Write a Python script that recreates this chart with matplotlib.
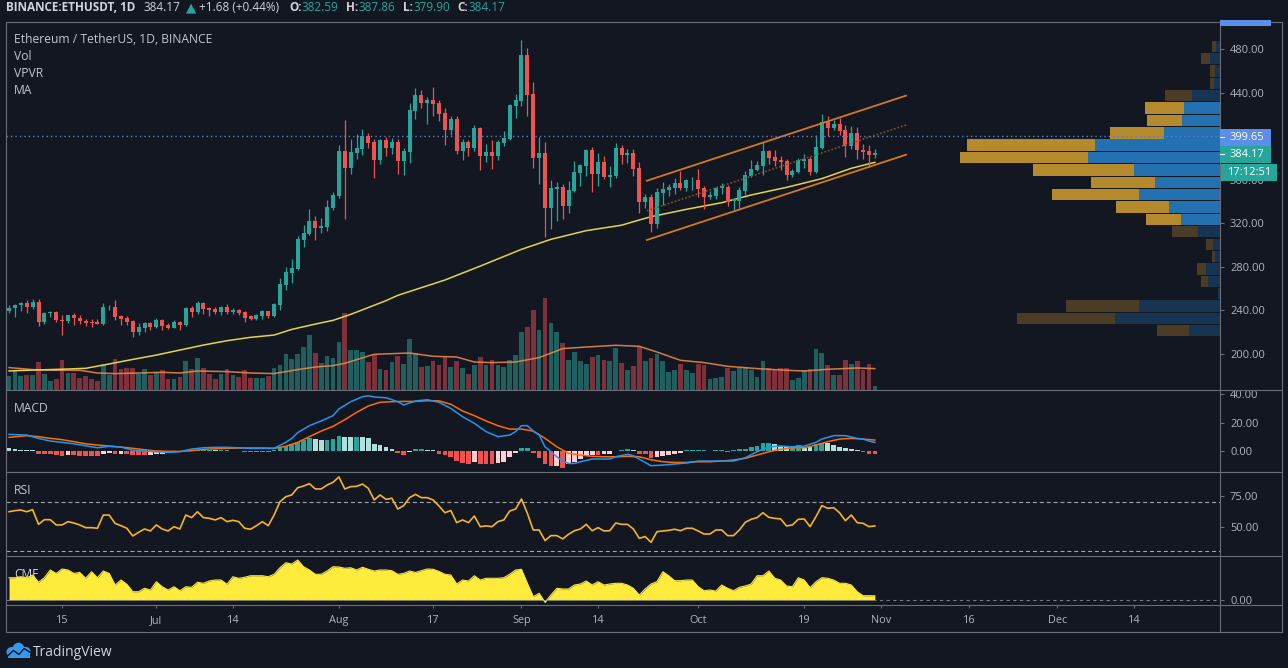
import numpy as np
import pandas as pd
import matplotlib
matplotlib.use("Agg")
import matplotlib.pyplot as plt
import matplotlib.dates as mdates
from matplotlib.patches import Rectangle, Circle
from matplotlib.lines import Line2D
from matplotlib.transforms import Affine2D
from matplotlib.ticker import FormatStrFormatter

plt.rcParams['font.family'] = ['Open Sans', 'DejaVu Sans']

# ---------------- data ----------------
dates = pd.date_range("2020-06-06", periods=148, freq="D")

opens = [239.4,242.1,244.6,246.5,243.1,247.7,229.0,236.9,238.2,231.1,
230.2,235.1,232.6,229.9,229.4,229.1,227.4,242.5,242.8,234.8,
233.0,229.9,219.8,223.5,228.0,224.4,230.8,226.5,223.5,229.0,
226.2,241.8,237.9,246.4,241.8,240.9,238.2,242.8,238.5,240.0,
238.2,234.2,231.7,234.5,239.1,234.5,244.6,263.0,274.0,277.7,
304.4,309.9,321.8,315.7,316.3,333.8,344.8,386.2,370.6,384.4,
388.0,400.0,394.5,378.0,396.3,389.0,394.5,377.0,385.3,423.0,
437.7,430.3,433.1,430.3,421.1,405.5,415.6,386.2,394.5,389.0,
407.4,381.6,385.3,381.6,393.6,397.2,427.6,432.2,474.5,438.6,
379.8,384.4,333.8,351.3,353.1,335.6,349.4,366.0,372.4,387.1,
365.1,376.1,362.3,363.2,389.0,382.5,384.4,370.6,339.3,343.9,
319.1,347.6,350.3,352.2,356.8,352.2,359.2,359.5,352.2,343.9,
344.8,352.2,353.1,340.2,340.2,349.4,363.2,368.7,372.4,386.2,
380.7,377.9,377.0,364.1,366.9,377.0,378.9,366.9,389.0,412.9,
407.4,411.0,405.5,390.8,402.8,387.1,386.2,382.59]

highs = [244.6,245.5,247.7,249.2,250.1,250.1,238.2,239.0,239.1,235.7,
235.7,237.2,235.7,232.0,231.4,231.4,246.7,244.6,249.2,235.4,
234.5,230.8,227.7,229.3,229.3,232.6,232.0,227.7,230.8,229.9,
242.5,243.7,248.3,247.4,242.4,242.8,243.7,245.5,241.8,240.9,
239.1,235.4,236.3,240.0,239.5,246.4,269.4,279.2,286.9,308.0,
318.2,332.9,326.4,324.6,341.2,348.5,391.7,414.7,397.2,401.8,
406.4,402.8,397.2,397.2,399.1,398.2,397.2,389.0,430.3,444.1,
442.3,435.9,445.1,433.1,425.7,418.4,418.4,397.2,396.3,410.1,
408.3,392.7,396.3,396.3,404.6,429.4,438.6,488.3,480.9,449.7,
399.1,394.5,359.5,357.7,355.9,358.6,377.0,374.3,388.0,389.9,
384.4,381.6,372.4,393.6,391.7,388.0,388.0,376.1,346.7,346.7,
352.2,357.7,355.9,361.4,367.8,360.5,362.0,369.7,354.0,349.4,
353.5,356.8,355.0,343.0,353.1,367.8,378.0,377.0,394.5,387.1,
387.1,381.6,378.9,369.7,379.8,383.4,380.7,400.9,420.2,418.4,
414.7,416.5,410.1,409.2,408.3,392.7,391.7,387.86]

lows = [236.9,233.9,239.4,237.5,241.2,225.6,227.1,233.9,229.0,217.0,
228.4,226.2,227.1,225.3,224.4,226.8,226.5,240.0,230.5,226.5,
226.2,215.2,217.0,219.8,221.6,223.5,221.6,222.5,223.5,221.6,
225.6,233.9,236.6,236.6,234.8,236.3,235.7,236.6,236.6,235.7,
229.0,231.1,230.8,232.0,233.0,234.0,240.0,258.4,264.8,276.8,
297.9,309.0,304.4,310.8,312.6,332.0,342.7,323.7,365.1,378.9,
382.5,389.0,361.4,374.3,381.6,383.4,365.1,364.2,375.2,415.6,
425.7,411.0,418.4,413.8,391.7,400.9,383.4,378.0,381.6,386.2,
368.7,376.1,369.7,378.0,390.8,396.3,416.6,427.6,418.4,370.6,
355.9,307.1,314.5,321.8,323.7,329.2,348.5,354.0,363.2,348.5,
354.0,360.5,353.1,361.4,374.3,375.2,363.5,329.5,333.8,311.7,
315.4,336.5,344.8,346.7,350.3,349.4,350.3,343.9,332.9,342.1,
342.1,346.7,335.6,332.0,333.8,345.8,362.3,367.8,364.1,374.3,
372.4,368.7,359.5,362.3,366.0,370.6,364.1,366.0,388.0,400.0,
405.5,400.9,380.7,388.0,378.9,378.9,371.5,379.90]

closes = [242.1,244.6,246.5,243.1,247.7,229.0,236.9,238.2,231.1,230.2,
235.1,232.6,229.9,228.0,228.4,227.4,242.8,243.1,233.9,232.0,
229.0,219.8,224.4,227.7,224.4,230.8,225.6,223.5,229.0,226.5,
241.8,238.2,246.4,240.9,240.3,238.2,242.8,238.2,240.0,236.9,
232.6,231.7,235.4,239.1,234.5,245.5,263.9,274.9,278.6,305.3,
310.8,321.8,315.4,317.2,334.7,345.7,386.2,370.6,385.3,389.0,
400.0,393.6,378.0,396.3,389.0,394.5,377.0,386.2,423.9,437.7,
430.3,433.1,429.4,420.2,405.5,415.6,386.2,394.5,389.0,407.4,
381.6,385.3,381.6,394.5,398.2,428.5,433.1,474.5,437.7,379.8,
384.4,333.8,352.2,353.1,335.6,350.3,366.9,373.3,387.1,365.1,
376.1,362.3,364.2,389.0,382.5,384.4,369.7,339.3,343.9,319.1,
348.5,351.3,353.1,356.8,352.2,359.5,359.8,351.3,343.9,345.7,
352.2,354.0,339.3,342.1,350.3,364.1,369.7,373.3,386.2,379.8,
377.0,376.1,364.1,367.8,377.9,378.9,366.9,389.9,412.9,407.4,
411.0,404.6,390.8,402.8,387.1,385.3,382.49,384.17]

volumes = [14,20,14,15,15,28,16,9,11,30,
17,17,12,14,11,9,26,15,31,21,
22,22,16,21,15,18,20,11,11,13,
29,21,32,22,16,11,16,21,15,13,
20,12,12,12,14,22,25,36,31,36,
43,55,37,27,34,32,48,77,40,40,
38,28,35,21,20,28,34,26,51,37,
23,24,29,25,33,23,29,22,16,25,
33,25,30,25,23,30,35,58,63,80,
60,92,67,58,47,30,38,29,26,33,
35,30,29,42,27,20,24,43,29,32,
36,29,18,20,26,20,17,26,25,11,
12,13,22,19,22,23,20,13,29,22,
20,22,22,10,12,20,21,41,37,25,
15,15,30,26,29,20,26,4]

vol_ma_idx = [0,4,8,12,15,18,22,26,29,32,37,41,45,49,52,55,57,62,68,72,
              76,79,82,86,90,94,98,103,107,110,114,118,122,127,132,135,139,144,147]
vol_ma_val = [22.7,20.7,20.0,20.0,17.3,16.7,17.3,18.0,17.3,19.3,18.7,17.3,16.7,20.7,23.3,24.7,27.0,36.0,37.3,34.0,
              33.3,28.3,27.7,28.3,32.7,41.7,43.3,45.0,44.0,38.3,30.0,27.7,24.0,21.7,20.0,19.3,21.0,22.3,21.7]

ma_idx = [0,4,8,13,16,21,25,29,33,37,41,45,48,52,55,58,64,66,74,80,87,92,98,104,107,109,115,121,126,132,138,143,147]
ma_val = [184.0,184.8,185.4,186.4,189.4,194.6,198.6,203.2,207.8,211.8,214.9,217.0,222.2,227.1,230.5,236.0,248.6,253.5,
          267.6,280.4,295.8,305.0,313.0,318.0,322.8,325.8,332.6,338.7,345.8,352.8,360.8,370.3,375.8]

macd_idx = [0,3,5,7,9,11,13,15,17,19, 21,23,25,27,29,31,33,35,37,39,
            41,43,45,47,48,49,51,53,55,56, 58,60,61,62,64,66,67,69,71,73,
            75,77,79,81,83,85,86,87,88,89, 90,91,93,94,95,96,97,99,101,102,
            103,105,106,107,108,109,111,113,115,117, 119,121,123,125,127,129,131,133,135,137,
            138,140,142,144,145,146,147]
macd_val = [11.7,11.2,8.9,7.0,6.1,5.1,3.7,2.3,3.3,2.8, 0.5,0.0,-0.5,-0.9,-0.5,1.4,2.3,2.6,2.6,2.3,
            1.9,1.9,1.9,6.1,8.9,12.9,17.8,21.1,24.8,29.5, 34.6,38.1,38.8,37.9,37.4,34.6,32.3,35.1,36.0,34.2,
            29.9,24.1,19.4,13.6,10.1,11.2,13.6,17.8,17.8,14.0, 11.2,3.0,-4.0,-7.0,-8.7,-8.7,-7.5,-5.6,-5.6,-5.6,
            -4.0,-2.3,-3.3,-5.6,-8.0,-10.3,-9.8,-9.1,-8.4,-7.0, -7.0,-7.0,-7.0,-4.7,-0.5,3.0,3.5,3.0,3.5,6.1,
            8.4,10.8,10.8,8.9,8.4,7.0,6.1]

signal_idx = [0,3,5,7,9,11,13,15,17,19, 21,23,25,27,29,31,33,35,37,39,
              41,43,45,47,49,51,53,55,57,59, 61,63,65,67,69,71,73,75,77,79,
              81,83,85,87,89,91,93,95,97,99, 101,103,105,107,109,111,113,115,117,119,
              121,123,125,127,129,131,133,135,137,139, 141,143,145,147]
signal_val = [9.6,10.8,10.1,8.9,8.0,6.6,5.1,4.2,3.5,2.8, 1.9,0.9,0.0,-0.2,-0.2,0.2,1.2,1.6,1.9,2.1,
              2.1,2.1,1.9,3.3,6.1,10.1,14.0,17.3,22.0,27.1, 31.6,34.2,34.6,34.8,34.8,35.3,35.2,32.8,28.1,24.8,
              21.1,17.8,15.4,15.4,14.0,8.9,3.0,-1.6,-2.8,-3.7, -4.0,-4.0,-3.7,-4.0,-6.1,-7.5,-8.0,-8.0,-7.5,-7.5,
              -7.0,-6.3,-5.1,-2.8,-0.5,1.2,2.3,2.3,4.2,6.6, 8.4,8.9,8.4,7.7]

macd_hist = [1.9,1.2,0.9,0.7,0.5,-1.9,-2.1,-2.1,-2.6,-3.3,
-2.8,-3.0,-3.3,-3.3,-3.3,-3.3,-1.9,-1.4,-2.1,-1.9,
-2.3,-2.8,-2.8,-2.8,-2.6,-2.3,-1.9,-1.6,-0.9,-0.5,
0.5,0.5,0.7,0.7,0.7,0.5,0.5,0.5,0.2,0.0,
-0.5,-0.9,-0.9,-0.9,-0.9,0.5,1.9,3.3,5.1,6.5,
8.0,8.9,8.4,7.7,8.0,8.4,10.5,10.1,9.8,9.8,
9.6,8.9,4.9,4.2,3.0,1.4,-1.2,-2.6,-0.5,1.4,
1.4,0.9,0.5,-1.9,-2.5,-4.0,-7.0,-8.7,-9.1,-7.5,
-9.1,-9.1,-9.1,-8.7,-7.5,-4.0,-1.6,1.9,1.9,-1.6,
-4.7,-9.1,-10.5,-10.3,-11.7,-9.1,-7.5,-5.6,-3.3,-2.8,
-2.8,-2.3,-1.9,0.3,0.7,1.4,0.5,-2.3,-2.3,-5.1,
-4.0,-3.5,-2.8,-1.9,-1.2,0.5,0.5,0.5,0.5,0.1,
0.5,0.5,-0.5,0.5,1.2,1.2,2.8,3.5,5.4,5.4,
4.7,3.5,3.0,3.0,4.2,3.0,2.6,4.7,5.8,5.4,
4.2,3.0,1.9,1.2,0.5,-0.5,-1.9,-1.9]

rsi = [62.3,63.2,63.7,62.3,64.0,52.0,55.8,55.8,51.5,51.5,
54.2,53.1,51.5,49.3,49.3,48.8,59.6,59.6,52.8,50.9,
48.8,42.5,45.5,48.2,46.6,51.5,48.2,46.6,50.1,48.2,
59.6,57.5,62.3,57.5,56.9,55.6,57.5,54.2,55.3,54.2,
48.8,48.0,50.9,54.2,50.9,59.6,70.5,74.6,76.0,81.9,
83.3,85.2,80.9,80.9,84.1,86.3,90.7,80.9,82.8,83.0,
84.9,81.4,71.9,76.0,72.4,73.3,64.5,67.3,73.8,76.5,
73.8,73.8,71.9,67.0,61.5,63.3,53.4,55.6,53.4,58.8,
50.1,50.7,50.1,54.2,55.6,62.9,64.5,72.7,61.0,47.4,
47.4,38.7,42.8,42.8,40.1,43.9,46.8,48.2,52.0,46.8,
49.3,46.6,46.8,53.1,52.0,52.0,48.2,40.6,42.0,37.3,
46.0,46.6,47.1,48.0,46.8,48.8,48.8,46.6,44.1,44.1,
47.4,47.4,42.8,42.8,47.4,53.7,56.1,57.5,61.5,57.7,
56.9,56.4,50.7,51.5,56.1,56.4,50.1,58.3,67.3,65.1,
65.6,61.5,55.0,59.6,53.4,52.8,50.1,50.7]

cmf = [0.156,0.156,0.163,0.156,0.175,0.124,0.156,0.210,0.186,0.217,
0.210,0.186,0.193,0.152,0.198,0.156,0.203,0.186,0.105,0.140,
0.110,0.058,0.058,0.082,0.070,0.128,0.093,0.070,0.093,0.065,
0.093,0.089,0.124,0.117,0.133,0.140,0.140,0.110,0.163,0.152,
0.159,0.170,0.170,0.170,0.163,0.180,0.226,0.261,0.252,0.280,
0.233,0.210,0.180,0.180,0.203,0.233,0.231,0.222,0.226,0.210,
0.229,0.215,0.203,0.210,0.210,0.205,0.180,0.186,0.203,0.193,
0.205,0.217,0.215,0.200,0.180,0.175,0.112,0.140,0.133,0.170,
0.140,0.152,0.152,0.152,0.156,0.180,0.210,0.215,0.117,0.023,
0.047,-0.016,0.035,0.082,0.077,0.077,0.105,0.112,0.133,0.105,
0.128,0.105,0.112,0.117,0.117,0.105,0.082,0.035,0.077,0.112,
0.128,0.198,0.170,0.135,0.135,0.140,0.140,0.093,0.065,0.070,
0.063,0.105,0.082,0.065,0.089,0.098,0.112,0.170,0.170,0.203,
0.152,0.140,0.098,0.093,0.156,0.140,0.086,0.128,0.156,0.152,
0.140,0.117,0.117,0.105,0.058,0.030,0.030,0.030]

# Volume profile (visible range), rows bottom -> top
vp_price = [220.9,232.3,243.7,255.0,266.4,277.8,289.2,300.5,311.9,323.3,334.7,346.1,
            357.4,368.8,380.2,391.6,402.9,414.3,425.7,437.1,448.5,459.8,471.2,482.6]
vp_up = [31,105,81,2,12,14,5,7,22,39,51,81,65,86,132,125,56,38,36,28,6,5,10,4]
vp_down = [32,98,73,0,7,9,3,7,26,35,53,87,64,101,128,128,54,35,39,27,4,5,9,4]
vp_value_area = [0,0,0,0,0,0,0,0,0,1,1,1,1,1,1,1,1,1,1,0,0,0,0,0]

# Trend channel drawing
chan_dates = ["2020-09-22 07:00", "2020-11-05 07:00"]
chan_upper = [358.9, 437.1]
chan_mid = [331.3, 410.1]
chan_lower = [304.4, 382.8]

hline_price = 399.65
last_price = 384.17
price_ticks = [200, 240, 280, 320, 360, 440, 480]

tick_dates = ['2020-06-15','2020-07-01','2020-07-14','2020-08-01','2020-08-17','2020-09-01',
              '2020-09-14','2020-10-01','2020-10-19','2020-11-01','2020-11-16','2020-12-01','2020-12-14']
tick_labels = ['15','Jul','14','Aug','17','Sep','14','Oct','19','Nov','16','Dec','14']

# ---------------- style ----------------
W, H = 1288, 668
BG = "#131722"
UP, DN = "#26a69a", "#ef5350"
VUP, VDN = "#1f605e", "#7e313a"
TXT = "#b2b5be"
TXT2 = "#d1d4dc"
FRAME = "#6b6e78"
AXFS = 8.0

fig = plt.figure(figsize=(W / 100, H / 100), dpi=100)
fig.patch.set_facecolor(BG)
T = Affine2D().scale(1, -1).translate(0, H).scale(1.0 / W, 1.0 / H) + fig.transFigure

L, R = 5.7, 1220.3
def rect(top, bot):
    return [L / W, 1 - bot / H, (R - L) / W, (bot - top) / H]

ax_vol = fig.add_axes(rect(21.7, 390.3), zorder=0)
ax = fig.add_axes(rect(21.7, 390.3), sharex=ax_vol, zorder=1)
ax_vp = fig.add_axes(rect(21.7, 390.3), sharey=ax, zorder=2)
ax_macd = fig.add_axes(rect(390.3, 472.3), sharex=ax_vol)
ax_rsi = fig.add_axes(rect(472.3, 556.3), sharex=ax_vol)
ax_cmf = fig.add_axes(rect(556.3, 605.3), sharex=ax_vol)

for a in (ax_vol, ax, ax_vp, ax_macd, ax_rsi, ax_cmf):
    for s in a.spines.values():
        s.set_visible(False)
ax_vol.set_facecolor(BG)
ax.set_facecolor('none')
ax_vp.set_facecolor('none')
for a in (ax_macd, ax_rsi, ax_cmf):
    a.set_facecolor(BG)

x = mdates.date2num(dates)
x0 = x[0]
ax_vol.set_xlim(x0 - 0.57, x0 + 205.65)

o = np.array(opens); hi = np.array(highs); lo = np.array(lows); c = np.array(closes)
up = c >= o
col = np.where(up, UP, DN)

# volume
vcol = np.where(up, VUP, VDN)
ax_vol.bar(x, volumes, width=0.8, color=vcol, linewidth=0)
ax_vol.plot(x[vol_ma_idx], vol_ma_val, color="#e8884a", lw=1.1, alpha=0.9)
ax_vol.set_ylim(0, 368.6)
ax_vol.tick_params(bottom=False, labelbottom=False, left=False, labelleft=False)

# price
ax.plot(x[ma_idx], ma_val, color="#e6d447", lw=1.1, zorder=2.5)
ax.vlines(x, lo, hi, colors=col, lw=0.9, zorder=3)
ax.bar(x, np.maximum(np.abs(c - o), 0.6), bottom=np.minimum(o, c), width=0.68,
       color=col, linewidth=0, zorder=4)
cx = mdates.date2num(pd.to_datetime(chan_dates))
ax.plot(cx, chan_upper, color="#d27a20", lw=1.3, zorder=5)
ax.plot(cx, chan_lower, color="#d27a20", lw=1.3, zorder=5)
ax.plot(cx, chan_mid, color="#7d5627", lw=1.2, ls=(0, (1, 1.2)), zorder=5)
ax.set_ylim(166.2, 505.1)
ax.yaxis.tick_right()
ax.set_yticks(price_ticks)
ax.yaxis.set_major_formatter(FormatStrFormatter('%.2f'))
ax.tick_params(axis='y', length=3, width=0.8, color=FRAME, labelcolor=TXT, labelsize=AXFS, pad=4)
ax.tick_params(axis='x', bottom=False, labelbottom=False)

# volume profile + horizontal price line on top of it
ax_vp.set_xlim(R - L, 0)
for p, u, d, va in zip(vp_price, vp_up, vp_down, vp_value_area):
    cu = "#2471b2" if va else "#173452"
    cd = "#b48a2c" if va else "#4a3c25"
    ax_vp.barh(p, u, left=0, height=10.4, color=cu, linewidth=0)
    ax_vp.barh(p, d, left=u, height=10.4, color=cd, linewidth=0)
ax_vp.axhline(hline_price, color="#5b7fc4", lw=1.0, ls=(0, (1, 2.2)), zorder=5)
ax_vp.axis('off')

# MACD
hcol = []
for i, v in enumerate(macd_hist):
    p = macd_hist[i - 1] if i > 0 else v + 0.1
    if v >= 0:
        hcol.append('#26a69a' if v >= p else '#b2dfdb')
    else:
        hcol.append('#ffcdd2' if v > p else '#ef5350')
ax_macd.bar(x, macd_hist, width=0.8, color=hcol, linewidth=0)
ax_macd.plot(x[signal_idx], signal_val, color="#ff6d00", lw=1.1)
ax_macd.plot(x[macd_idx], macd_val, color="#2196f3", lw=1.1)
ax_macd.set_ylim(-14.9, 42.6)
ax_macd.yaxis.tick_right()
ax_macd.set_yticks([0, 20, 40])
ax_macd.yaxis.set_major_formatter(FormatStrFormatter('%.2f'))

# RSI
ax_rsi.axhline(70, color="#a3a6af", lw=0.8, ls=(0, (3.6, 2.6)))
ax_rsi.axhline(30, color="#a3a6af", lw=0.8, ls=(0, (3.6, 2.6)))
ax_rsi.plot(x, rsi, color="#f5b32a", lw=1.2)
ax_rsi.set_ylim(25.9, 94.5)
ax_rsi.yaxis.tick_right()
ax_rsi.set_yticks([50, 75])
ax_rsi.yaxis.set_major_formatter(FormatStrFormatter('%.2f'))

# CMF
ax_cmf.text(14, 578.3, "CMF", transform=T, color=TXT2, fontsize=8.6, zorder=0.5)
ax_cmf.fill_between(x, 0, cmf, color="#ffeb3b", linewidth=0, zorder=1)
ax_cmf.plot(x, cmf, color="#fde64a", lw=0.8, zorder=1.1)
ax_cmf.axhline(0, color="#787b86", lw=0.8, ls=(0, (3, 3)), zorder=2)
ax_cmf.set_ylim(-0.037, 0.306)
ax_cmf.yaxis.tick_right()
ax_cmf.set_yticks([0])
ax_cmf.yaxis.set_major_formatter(FormatStrFormatter('%.2f'))

for a in (ax_macd, ax_rsi, ax_cmf):
    a.tick_params(axis='y', length=3, width=0.8, color=FRAME, labelcolor=TXT, labelsize=AXFS, pad=4)
for a in (ax_macd, ax_rsi):
    a.tick_params(axis='x', bottom=False, labelbottom=False)

ax_cmf.set_xticks(mdates.date2num(pd.to_datetime(tick_dates)))
ax_cmf.set_xticklabels(tick_labels)
ax_cmf.tick_params(axis='x', length=2.5, width=0.8, color=FRAME, labelcolor=TXT, labelsize=7.8, pad=4.6)
ax_vol.set_xlim(x0 - 0.57, x0 + 205.65)

# ---------------- frame ----------------
def fline(x0_, y0_, x1_, y1_, color=FRAME, lw=0.8, z=9):
    fig.add_artist(Line2D([x0_, x1_], [y0_, y1_], transform=T, color=color, lw=lw, zorder=z))

fline(5.7, 21.7, 1282.3, 21.7)
fline(5.7, 632.3, 1282.3, 632.3)
fline(5.7, 21.7, 5.7, 632.3)
fline(1282.3, 21.7, 1282.3, 632.3)
fline(1220.3, 21.7, 1220.3, 632.3)
for yy in (390.3, 472.3, 556.3, 605.3):
    fline(5.7, yy, 1282.3, yy)

# ---------------- price labels on axis ----------------
def fbox(x0_, y0_, x1_, y1_, color, z=10):
    fig.add_artist(Rectangle((x0_, y0_), x1_ - x0_, y1_ - y0_, transform=T,
                             facecolor=color, edgecolor='none', zorder=z))

fbox(1220.3, 20.0, 1271, 25.7, "#5a8ee8")
fbox(1220.3, 129.0, 1271, 145.7, "#5a8ee8")
fbox(1220.3, 146.0, 1271, 162.7, "#26a69a")
fbox(1221.0, 164.0, 1276.7, 180.7, "#26a69a")
fline(1220.3, 137.3, 1224.0, 137.3, color="white", lw=0.8, z=11)
fline(1220.3, 154.3, 1224.0, 154.3, color="white", lw=0.8, z=11)
fig.text(1230, 137.6, f"{hline_price:.2f}", transform=T, color="white", fontsize=AXFS,
         va='center', zorder=12)
fig.text(1230, 154.6, f"{last_price:.2f}", transform=T, color="white", fontsize=AXFS,
         va='center', zorder=12)
fig.text(1226.7, 172.6, "17:12:51", transform=T, color="white", fontsize=AXFS,
         va='center', zorder=12)

# ---------------- header & legends ----------------
def ftext(xp, yp, s, color=TXT2, size=8.5, weight='normal', **kw):
    fig.text(xp, yp, s, transform=T, color=color, fontsize=size, fontweight=weight,
             va='baseline', zorder=12, **kw)

ftext(6, 11.3, "BINANCE:ETHUSDT, 1D", weight='bold')
ftext(144, 11.3, "384.17")
ftext(185.5, 11.6, "\u25B2", color=UP, size=9.5, family=['DejaVu Sans'])
ftext(199, 11.3, "+1.68 (+0.44%)")
ftext(289, 11.3, "O:", weight='bold')
ftext(302, 11.3, "382.59", color=UP)
ftext(346, 11.3, "H:", weight='bold')
ftext(359, 11.3, "387.86", color=UP)
ftext(403, 11.3, "L:", weight='bold')
ftext(414, 11.3, "379.90", color=UP)
ftext(457, 11.3, "C:", weight='bold')
ftext(469, 11.3, "384.17", color=UP)

ftext(14, 42.7, "Ethereum / TetherUS, 1D, BINANCE", color="#c3c6ce", size=8.7)
ftext(14, 60.0, "Vol", color="#c3c6ce", size=8.7)
ftext(14, 76.8, "VPVR", color="#c3c6ce", size=8.7)
ftext(14, 93.8, "MA", color="#c3c6ce", size=8.7)
ftext(14, 412.3, "MACD", color="#c3c6ce", size=8.7)
ftext(14, 493.7, "RSI", color="#c3c6ce", size=8.7)

# ---------------- footer ----------------
for (cxp, cyp, r) in [(11.5, 652.0, 5.0), (18.5, 648.5, 5.8), (25.5, 652.0, 5.2)]:
    fig.add_artist(Circle((cxp, cyp), r, transform=T, facecolor="#2f9cf4", edgecolor='none', zorder=10))
fbox(8.0, 651.5, 30.0, 657.5, "#2f9cf4")
fig.add_artist(Line2D([7.5, 13.5, 19.0, 24.0, 30.5], [656.0, 650.5, 654.5, 648.5, 652.5],
                      transform=T, color=BG, lw=1.1, zorder=11))
ftext(33, 655.5, "TradingView", color=TXT2, size=10)

fig.savefig("out.png", dpi=100, facecolor=BG)
